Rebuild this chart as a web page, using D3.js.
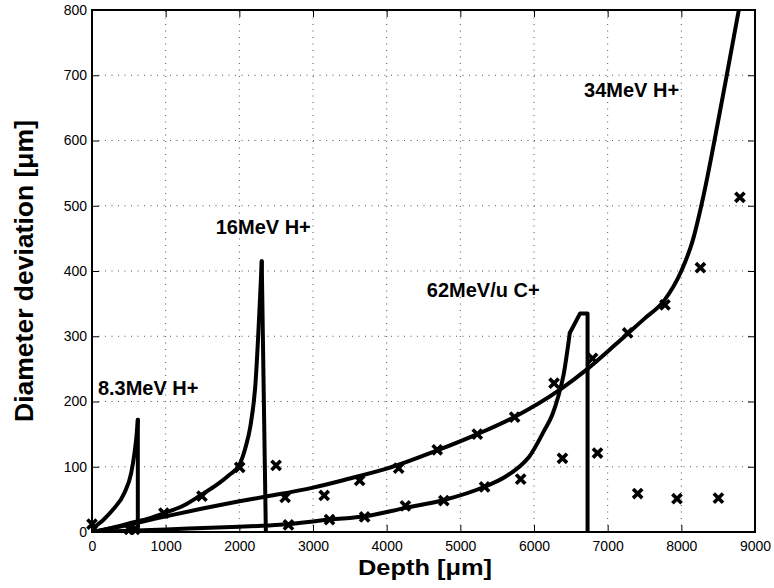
<!DOCTYPE html>
<html>
<head>
<meta charset="utf-8">
<script src="https://cdn.jsdelivr.net/npm/d3@7"></script>
<style>
  html, body { margin: 0; padding: 0; background: #fff; }
  svg { display: block; }
  text { font-family: "Liberation Sans", Arial, Helvetica, sans-serif; fill: #000; }
</style>
</head>
<body>
<svg id="chart" width="774" height="588"></svg>
<script>
// ---- data ----
const xTicks = [0, 1000, 2000, 3000, 4000, 5000, 6000, 7000, 8000, 9000];
const yTicks = [0, 100, 200, 300, 400, 500, 600, 700, 800];

// 8.3 MeV H+ : rising part, then drop
const h8Depth = [0, 32, 150, 282, 441, 531, 577, 605, 622];
const h8Value = [0, 6, 18, 34, 60, 90, 121, 148, 172];
const h8DropDepth = [622, 622];
const h8DropValue = [172, 0];

// 16 MeV H+
const h16Depth = [0, 250, 500, 750, 985, 1250, 1483, 1700, 1846, 2005, 2080, 2150, 2214, 2304];
const h16Value = [0, 6, 13, 20, 29, 41, 57, 73, 86, 104, 128, 162, 220, 415];
const h16DropDepth = [2304, 2360];
const h16DropValue = [415, 0];

// 34 MeV H+
const h34Depth = [0, 500, 1000, 1500, 2000, 2345, 3000, 3500, 4000, 4686, 5230, 5728, 6363, 6727, 7271, 7500, 7769, 8000, 8150, 8300, 8450, 8600, 8780];
const h34Value = [0, 11, 24, 36, 47, 54, 68, 82, 97, 125, 150, 176, 219, 250, 304, 327, 355, 400, 445, 515, 600, 690, 800];

// 62 MeV/u C+
const c62Depth = [0, 1000, 2000, 2554, 3236, 3712, 4256, 4775, 5320, 5600, 5800, 5932, 6136, 6250, 6330, 6400, 6486];
const c62Value = [0, 4, 8, 11, 19, 24, 37, 49, 69, 84, 100, 115, 155, 180, 208, 240, 305];
const c62TailDepth = [6486, 6626, 6727, 6727];
const c62TailValue = [305, 335, 335, 0];

// measured points (x markers)
const markDepth = [0, 509, 577, 976, 1493, 2005, 2499, 2622, 2667, 3152, 3224, 3633, 3701, 4163, 4254, 4686, 4776, 5230, 5329, 5737, 5819, 6272, 6386, 6795, 6862, 7271, 7407, 7778, 7941, 8259, 8503, 8795];
const markValue = [12, 4, 4, 29, 55, 99, 102, 53, 11, 56, 19, 79, 23, 98, 40, 126, 48, 150, 69, 176, 81, 228, 113, 266, 121, 305, 59, 348, 51, 405, 52, 513];

const annotations = ["8.3MeV H+", "16MeV H+", "62MeV/u C+", "34MeV H+"];
const annDepth = [80, 1680, 4545, 6680];
const annValue = [210, 456, 360, 667];

// ---- layout ----
const svg = d3.select("#chart");
const L = 92, R = 755, T = 10, B = 532;
const x = d3.scaleLinear().domain([0, 9000]).range([L, R]);
const y = d3.scaleLinear().domain([0, 800]).range([B, T]);

// grid
const grid = svg.append("g").attr("stroke", "#555").attr("stroke-width", 1).attr("stroke-dasharray", "1,5.5");
xTicks.slice(1, -1).forEach(v => grid.append("line").attr("x1", x(v)).attr("x2", x(v)).attr("y1", B).attr("y2", T));
yTicks.slice(1, -1).forEach(v => grid.append("line").attr("x1", L).attr("x2", R).attr("y1", y(v)).attr("y2", y(v)));

// axes with inward ticks
const tickLen = 7;
const axB = d3.axisBottom(x).tickValues(xTicks).tickSize(-tickLen).tickPadding(9.5).tickFormat(d3.format("d"));
const axT = d3.axisTop(x).tickValues(xTicks).tickSize(-tickLen).tickFormat("");
const axL = d3.axisLeft(y).tickValues(yTicks).tickSize(-tickLen).tickPadding(5).tickFormat(d3.format("d"));
const axR = d3.axisRight(y).tickValues(yTicks).tickSize(-tickLen).tickFormat("");

function styleAxis(g) {
  g.select(".domain").remove();
  g.selectAll(".tick line").attr("stroke", "#000").attr("stroke-width", 1);
  g.selectAll(".tick text").attr("font-size", "14px").style("font-family", '"Liberation Sans", Arial, sans-serif').attr("fill", "#000");
}
svg.append("g").attr("transform", `translate(0,${B})`).call(axB).call(styleAxis);
svg.append("g").attr("transform", `translate(0,${T})`).call(axT).call(styleAxis);
svg.append("g").attr("transform", `translate(${L},0)`).call(axL).call(styleAxis);
svg.append("g").attr("transform", `translate(${R},0)`).call(axR).call(styleAxis);

// frame
svg.append("rect").attr("x", L).attr("y", T).attr("width", R - L).attr("height", B - T)
  .attr("fill", "none").attr("stroke", "#000").attr("stroke-width", 2);

// curves
svg.append("clipPath").attr("id", "clip").append("rect")
  .attr("x", L).attr("y", T - 1).attr("width", R - L).attr("height", B - T + 2);
const plot = svg.append("g").attr("clip-path", "url(#clip)");

const smooth = d3.line().x(d => x(d[0])).y(d => y(d[1])).curve(d3.curveMonotoneX);
const straight = d3.line().x(d => x(d[0])).y(d => y(d[1])).curve(d3.curveLinear);
const zip = (a, b) => a.map((v, i) => [v, b[i]]);

function drawPath(gen, pts) {
  plot.append("path").attr("d", gen(pts)).attr("fill", "none").attr("stroke", "#000")
    .attr("stroke-width", 4).attr("stroke-linejoin", "round").attr("stroke-linecap", "round");
}
drawPath(smooth, zip(h8Depth, h8Value));
drawPath(straight, zip(h8DropDepth, h8DropValue));
drawPath(smooth, zip(h16Depth, h16Value));
drawPath(straight, zip(h16DropDepth, h16DropValue));
drawPath(smooth, zip(h34Depth, h34Value));
drawPath(smooth, zip(c62Depth, c62Value));
drawPath(straight, zip(c62TailDepth, c62TailValue));

// markers
const s = 4.6;
const marks = svg.append("g").attr("stroke", "#000").attr("stroke-width", 3.6).attr("stroke-linecap", "butt");
markDepth.forEach((d, i) => {
  const cx = x(d), cy = y(markValue[i]);
  marks.append("path").attr("d", `M${cx - s},${cy - s}L${cx + s},${cy + s}M${cx - s},${cy + s}L${cx + s},${cy - s}`);
});

// annotations
annotations.forEach((t, i) => {
  svg.append("text").attr("x", x(annDepth[i])).attr("y", y(annValue[i]))
    .attr("font-size", "20px").attr("font-weight", "bold").text(t);
});

// axis labels
svg.append("text").attr("x", 425).attr("y", 575).attr("text-anchor", "middle")
  .attr("font-size", "22px").attr("font-weight", "bold")
  .attr("textLength", 134).attr("lengthAdjust", "spacingAndGlyphs").text("Depth [μm]");
svg.append("text").attr("transform", "translate(33,271) rotate(-90)").attr("text-anchor", "middle")
  .attr("font-size", "26.5px").attr("font-weight", "bold").text("Diameter deviation [μm]");
</script>
</body>
</html>
